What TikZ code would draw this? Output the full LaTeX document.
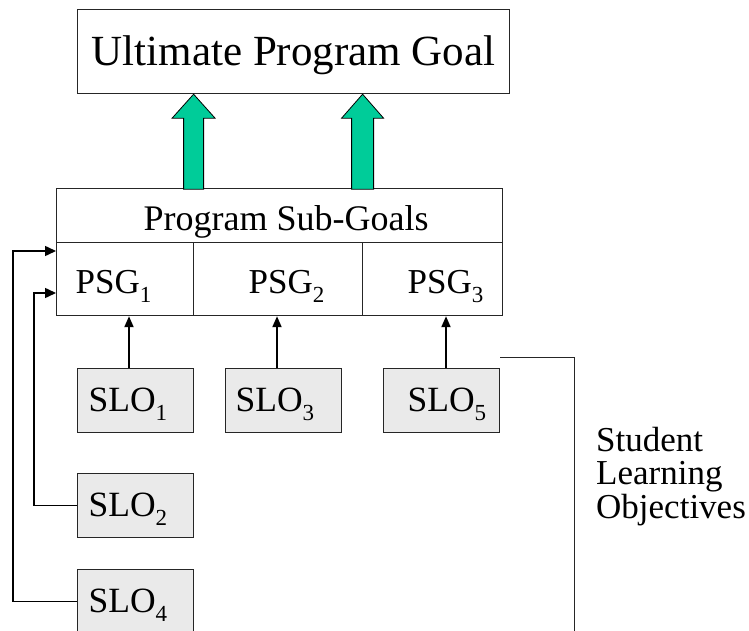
\documentclass[tikz,border=0pt]{standalone}
\usepackage{fontspec}
\setmainfont{Liberation Serif}
\usetikzlibrary{arrows.meta,calc}
% lowered subscript for the box labels
\newcommand{\dn}[1]{\raisebox{-9pt}{\fontsize{23}{23}\selectfont #1}}
\definecolor{sloGray}{RGB}{234,234,234}
\definecolor{goalGreen}{RGB}{0,204,153}
\begin{document}
\begin{tikzpicture}[x=1pt,y=-1pt,
  box/.style={draw=black!85, line width=1.2pt, inner sep=0pt, anchor=north west},
  bigtxt/.style={font=\fontsize{43}{43}\selectfont, text height=28pt, text depth=0pt},
  midtxt/.style={font=\fontsize{35}{35}\selectfont, text height=29pt, text depth=0pt},
  cell/.style={box, midtxt, minimum height=73pt, align=left},
  slobox/.style={box, fill=sloGray, font=\fontsize{35.5}{35.5}\selectfont,
    text height=22pt, text depth=0pt, minimum height=64pt, text width=116pt, align=left},
  link/.style={line width=2pt, -{Triangle[length=11pt,width=9pt]}},
  feed/.style={line width=1.5pt, -{Triangle[length=11pt,width=10pt]}},
  blockarrow/.style={draw=black, line width=0.8pt, fill=goalGreen, line join=miter}]
\useasboundingbox (0,0) rectangle (749,631);

% top goal
\node[box, bigtxt, minimum width=432pt, minimum height=84pt] (goal) at (77,9) {Ultimate Program Goal};

% program sub-goals table
\node[box, midtxt, font=\fontsize{36}{36}\selectfont, minimum width=446pt, minimum height=54pt, text height=30pt] (head) at (56,188) {\hspace*{13pt}Program Sub-Goals};
\node[cell, text width=137pt] (psg1) at (56,242) {\hspace*{19pt}PSG\dn{1}};
\node[cell, text width=169pt] (psg2) at (193,242) {\hspace*{55pt}PSG\dn{2}};
\node[cell, text width=140pt] (psg3) at (362,242) {\hspace*{45pt}PSG\dn{3}};

% student learning objectives
\node[slobox] (slo1) at (77,368) {\hspace*{11pt}SLO\dn{1}};
\node[slobox] (slo3) at (225,368) {\hspace*{10pt}SLO\dn{3}};
\node[slobox] (slo5) at (383,368) {\hspace*{24pt}SLO\dn{5}};
\node[slobox] (slo2) at (77,473) {\hspace*{11pt}SLO\dn{2}};
\node[slobox] (slo4) at (77,569) {\hspace*{11pt}SLO\dn{4}};

% green block arrows into the goal
\coordinate (t1) at ($(goal.south)+(-100,0)$);
\coordinate (t2) at ($(goal.south)+(69,0)$);
\draw[blockarrow] (t1) -- ++(21.5,24) -- ++(-11.5,0) -- ++(0,71) -- ++(-20,0)
  -- ++(0,-71) -- ++(-11.5,0) -- cycle;
\draw[blockarrow] (t2) -- ++(21,24) -- ++(-10,0) -- ++(0,71) -- ++(-22,0)
  -- ++(0,-71) -- ++(-10,0) -- cycle;

% SLO to PSG links
\coordinate (s1) at ($(slo1.north west)+(52,0)$);
\coordinate (s3) at ($(slo3.north west)+(52,0)$);
\coordinate (s5) at ($(slo5.north west)+(63,0)$);
\draw[link] (s1) -- (s1 |- psg1.south);
\draw[link] (s3) -- (s3 |- psg2.south);
\draw[link] (s5) -- (s5 |- psg3.south);

% feedback lines from SLO2 and SLO4
\draw[feed] (slo2.west) -- ++(-43,0) |- ($(psg1.north west)+(0,51)$);
\draw[feed] (slo4.west) -- ++(-64,0) |- ($(psg1.north west)+(0,9)$);

% bracket and its label
\coordinate (bk) at ($(slo5.north east)+(0,-11)$);
\draw[line width=1pt, draw=black!85] (bk) -- ++(74,0) -- ++(0,290);
\node[anchor=base west, align=left, inner sep=0pt,
  font=\fontsize{35}{33.5}\selectfont] (slotxt) at (596,518) {Student\\Learning\\Objectives};
\end{tikzpicture}
\end{document}
